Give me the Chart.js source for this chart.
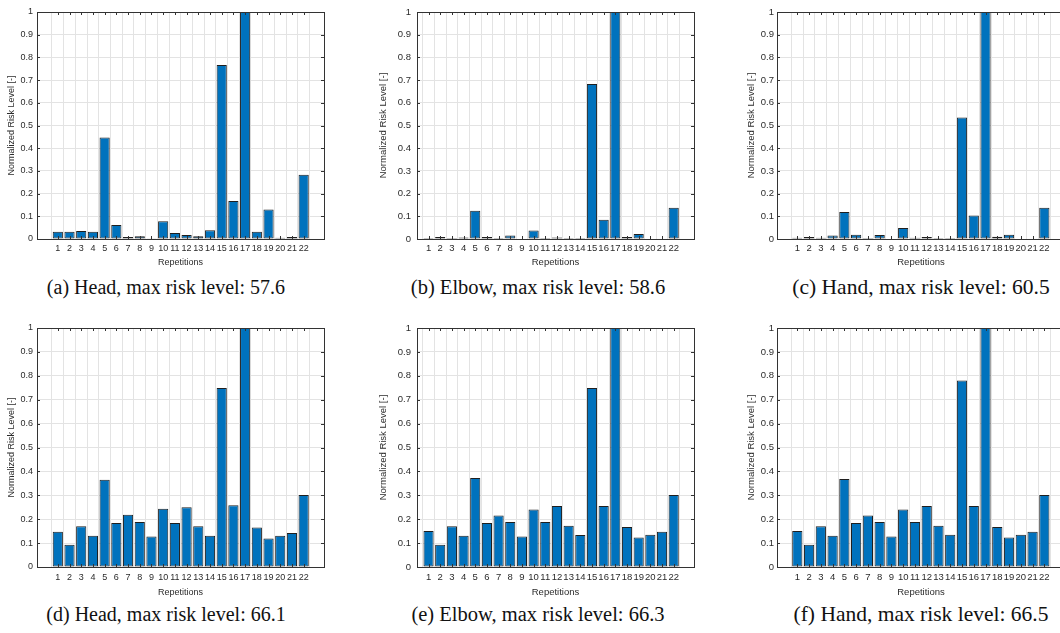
<!DOCTYPE html>
<html>
<head>
<meta charset="utf-8">
<title>Normalized risk level per repetition</title>
<script src="https://cdn.jsdelivr.net/npm/chart.js@4.4.1/dist/chart.umd.min.js"></script>
<style>
  html, body { margin: 0; padding: 0; background: #fff; }
  body { width: 1060px; height: 633px; position: relative; overflow: hidden; }
  .panel { position: absolute; }
  .caption {
    position: absolute;
    font-family: "Liberation Serif", "Times New Roman", serif;
    color: #111;
    white-space: nowrap;
    transform: translate(-50%, -50%);
  }
</style>
</head>
<body>
<script>
// Data (normalized risk level per repetition)
const repetitions = [1, 2, 3, 4, 5, 6, 7, 8, 9, 10, 11, 12, 13, 14, 15, 16, 17, 18, 19, 20, 21, 22];
const yTicks = [0, 0.1, 0.2, 0.3, 0.4, 0.5, 0.6, 0.7, 0.8, 0.9, 1];

const headA  = [0.032, 0.032, 0.035, 0.032, 0.447, 0.062, 0.009, 0.012, 0.001, 0.078, 0.026, 0.018, 0.012, 0.038, 0.767, 0.167, 1.0, 0.032, 0.130, 0.006, 0.009, 0.283];
const elbowB = [0.004, 0.009, 0.004, 0.007, 0.125, 0.009, 0.004, 0.015, 0.0, 0.037, 0.004, 0.007, 0.004, 0.004, 0.683, 0.085, 1.0, 0.009, 0.022, 0.0, 0.0, 0.138];
const handC  = [0.006, 0.009, 0.006, 0.015, 0.119, 0.019, 0.004, 0.018, 0.0, 0.048, 0.006, 0.009, 0.004, 0.004, 0.535, 0.104, 1.0, 0.010, 0.019, 0.0, 0.0, 0.138];
const headD  = [0.148, 0.093, 0.170, 0.131, 0.365, 0.184, 0.219, 0.188, 0.128, 0.244, 0.184, 0.250, 0.170, 0.131, 0.749, 0.258, 1.0, 0.165, 0.119, 0.131, 0.142, 0.301];
const elbowE = [0.151, 0.093, 0.170, 0.131, 0.372, 0.184, 0.216, 0.188, 0.128, 0.241, 0.188, 0.255, 0.173, 0.134, 0.749, 0.255, 1.0, 0.167, 0.123, 0.135, 0.148, 0.301];
const handF  = [0.151, 0.093, 0.170, 0.131, 0.368, 0.184, 0.216, 0.188, 0.128, 0.241, 0.188, 0.255, 0.173, 0.135, 0.780, 0.255, 1.0, 0.167, 0.123, 0.135, 0.148, 0.301];

const captions = [
  "(a) Head, max risk level: 57.6",
  "(b) Elbow, max risk level: 58.6",
  "(c) Hand, max risk level: 60.5",
  "(d) Head, max risk level: 66.1",
  "(e) Elbow, max risk level: 66.3",
  "(f) Hand, max risk level: 66.5",
];

// Layout of the three columns and two rows (pixels in the 1060x633 page)
const cols = [
  { plotLeft: 37,  plotRight: 324,  yw: 37, tickPad: 4, titlePad: 6,  tickFont: 9,   titleFont: 9,   xMin: -0.22, xMax: 23.18, capX: 166, capFont: 20 },
  { plotLeft: 417, plotRight: 694,  yw: 45, tickPad: 6, titlePad: 6,  tickFont: 9.5, titleFont: 9.5, xMin: 0.55,  xMax: 23.2,  capX: 538, capFont: 20.5 },
  { plotLeft: 777, plotRight: 1065, yw: 45, tickPad: 3, titlePad: 14, tickFont: 9.5, titleFont: 9.5, xMin: -0.17, xMax: 23.2,  capX: 921, capFont: 21.5 },
];
const rows = [
  { plotTop: 12,  plotBottom: 239, xTickPad: 4, xAxisH: 29, capY: 287 },
  { plotTop: 328, plotBottom: 567, xTickPad: 5, xAxisH: 31, capY: 614 },
];

const panels = [
  { values: headA,  col: 0, row: 0 },
  { values: elbowB, col: 1, row: 0 },
  { values: handC,  col: 2, row: 0 },
  { values: headD,  col: 0, row: 1 },
  { values: elbowE, col: 1, row: 1 },
  { values: handF,  col: 2, row: 1 },
];

const BAR_BLUE = "#0072BD";
const AXIS_DARK = "#333333";
const TEXT_DARK = "#2b2b2b";
const GRID_LIGHT = "#e3e3e3";

// Box around the axes with small inward tick marks (MATLAB style)
const boxPlugin = {
  id: "boxPlugin",
  afterDraw(chart) {
    const { ctx, chartArea: a, scales } = chart;
    ctx.save();
    ctx.strokeStyle = AXIS_DARK;
    ctx.lineWidth = 1;
    ctx.beginPath();
    repetitions.forEach((r) => {
      const px = Math.round(scales.x.getPixelForValue(r)) + 0.5;
      ctx.moveTo(px, a.bottom); ctx.lineTo(px, a.bottom - 3);
      ctx.moveTo(px, a.top); ctx.lineTo(px, a.top + 3);
    });
    yTicks.forEach((t) => {
      const py = Math.round(scales.y.getPixelForValue(t)) + 0.5;
      ctx.moveTo(a.left, py); ctx.lineTo(a.left + 3, py);
      ctx.moveTo(a.right, py); ctx.lineTo(a.right - 3, py);
    });
    ctx.stroke();
    ctx.strokeRect(Math.round(a.left) + 0.5, Math.round(a.top) + 0.5,
      Math.round(a.right - a.left), Math.round(a.bottom - a.top));
    ctx.restore();
  },
};

function makePanel(p, idx) {
  const c = cols[p.col];
  const r = rows[p.row];
  const left = c.plotLeft - c.yw;
  const top = r.plotTop - 12;
  const width = Math.round(c.plotRight - left + 4);
  const height = Math.round(r.plotBottom - top + r.xAxisH);

  const div = document.createElement("div");
  div.className = "panel";
  div.style.left = left + "px";
  div.style.top = top + "px";
  div.style.width = width + "px";
  div.style.height = height + "px";
  const canvas = document.createElement("canvas");
  canvas.width = width;
  canvas.height = height;
  div.appendChild(canvas);
  document.body.appendChild(div);

  const cap = document.createElement("div");
  cap.className = "caption";
  cap.style.left = c.capX + "px";
  cap.style.top = r.capY + "px";
  cap.style.fontSize = c.capFont + "px";
  cap.textContent = captions[idx];
  document.body.appendChild(cap);

  new Chart(canvas.getContext("2d"), {
    type: "bar",
    data: {
      datasets: [
        {
          data: repetitions.map((rep, i) => ({ x: rep, y: p.values[i] })),
          backgroundColor: BAR_BLUE,
          borderColor: "#1f1f1f",
          borderWidth: 1,
          borderSkipped: false,
          barPercentage: 0.87,
          categoryPercentage: 1,
        },
      ],
    },
    options: {
      responsive: false,
      animation: false,
      devicePixelRatio: 1,
      layout: { padding: { top: 12, right: 4, left: 0, bottom: 0 } },
      plugins: { legend: { display: false }, tooltip: { enabled: false } },
      scales: {
        x: {
          type: "linear",
          min: c.xMin,
          max: c.xMax,
          afterBuildTicks: (scale) => {
            scale.ticks = repetitions.map((v) => ({ value: v }));
          },
          afterFit: (scale) => { scale.height = r.xAxisH; },
          grid: { color: GRID_LIGHT, drawTicks: false, lineWidth: 1 },
          border: { display: false },
          ticks: {
            autoSkip: false,
            maxRotation: 0,
            padding: r.xTickPad,
            color: TEXT_DARK,
            font: { family: "Liberation Sans", size: c.tickFont },
          },
          title: {
            display: true,
            text: "Repetitions",
            color: TEXT_DARK,
            padding: 0,
            font: { family: "Liberation Sans", size: c.titleFont },
          },
        },
        y: {
          min: 0,
          max: 1,
          afterBuildTicks: (scale) => {
            scale.ticks = yTicks.map((v) => ({ value: v }));
          },
          afterFit: (scale) => { scale.width = c.yw; },
          grid: { color: GRID_LIGHT, drawTicks: false, lineWidth: 1 },
          border: { display: false },
          ticks: {
            padding: c.tickPad,
            color: TEXT_DARK,
            font: { family: "Liberation Sans", size: c.tickFont },
            callback: (v) => String(Number(v.toFixed(1))),
          },
          title: {
            display: true,
            text: "Normalized Risk Level [-]",
            color: TEXT_DARK,
            padding: c.titlePad,
            font: { family: "Liberation Sans", size: c.titleFont },
          },
        },
      },
    },
    plugins: [boxPlugin],
  });
}

panels.forEach(makePanel);
</script>
</body>
</html>
